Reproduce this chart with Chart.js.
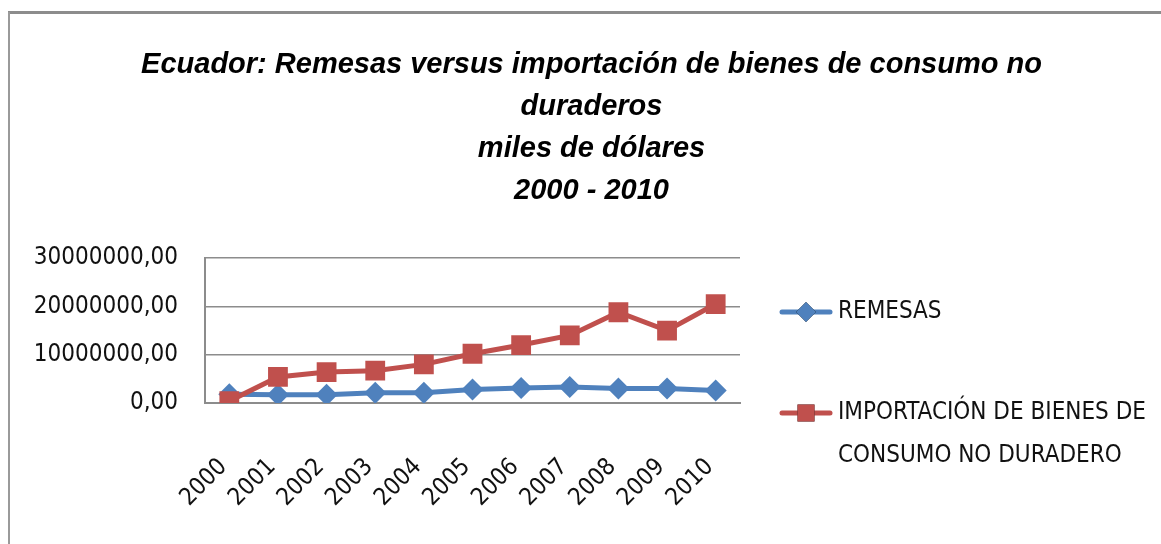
<!DOCTYPE html>
<html>
<head>
<meta charset="utf-8">
<style>
  html, body { margin: 0; padding: 0; background: #fff; }
  #wrap { width: 1161px; height: 544px; }
</style>
<script src="https://cdn.jsdelivr.net/npm/chart.js@4.4.1/dist/chart.umd.min.js"></script>
</head>
<body>
<div id="wrap"><canvas id="my-chart" width="1161" height="544"></canvas></div>
<script>
const years = ['2000', '2001', '2002', '2003', '2004', '2005', '2006', '2007', '2008', '2009', '2010'];
const remesas = [1800000, 1700000, 1700000, 2100000, 2100000, 2800000, 3100000, 3300000, 3000000, 3000000, 2600000];
const importacion = [400000, 5400000, 6400000, 6700000, 8000000, 10200000, 12000000, 14000000, 18800000, 15000000, 20500000];
const titleLines = [
  'Ecuador: Remesas versus importación de bienes de consumo no',
  'duraderos',
  'miles de dólares',
  '2000 - 2010',
];

const labelFont = "'Liberation Sans Narrow', 'DejaVu Sans Condensed', sans-serif";

// white background + the grey frame around the chart
const framePlugin = {
  id: 'frame',
  beforeDraw: (chart) => {
    const { ctx, width, height } = chart;
    ctx.save();
    ctx.fillStyle = '#fff';
    ctx.fillRect(0, 0, width, height);
    ctx.strokeStyle = '#8c8c8c';
    ctx.lineWidth = 3;
    ctx.beginPath();
    ctx.moveTo(8, 12.5);
    ctx.lineTo(width, 12.5);
    ctx.stroke();
    ctx.strokeStyle = '#9a9a9a';
    ctx.lineWidth = 2;
    ctx.beginPath();
    ctx.moveTo(9, 12);
    ctx.lineTo(9, height);
    ctx.stroke();
    ctx.restore();
  },
};

// legend drawn at the right, labels wrapped like the original
const sideLegend = {
  id: 'sideLegend',
  afterDraw: (chart) => {
    const { ctx } = chart;
    const x0 = chart.chartArea.right + 40;
    const rows = [312, 413];
    ctx.save();
    ctx.font = `24px ${labelFont}`;
    ctx.textBaseline = 'middle';
    chart.data.datasets.forEach((ds, i) => {
      const y = rows[i];
      ctx.strokeStyle = ds.borderColor;
      ctx.lineWidth = 5;
      ctx.lineCap = 'round';
      ctx.beginPath();
      ctx.moveTo(x0 + 2, y);
      ctx.lineTo(x0 + 50, y);
      ctx.stroke();
      Chart.helpers.drawPoint(ctx, {
        pointStyle: ds.pointStyle,
        radius: ds.pointStyle === 'rect' ? 12 : 10,
        borderWidth: 0,
        rotation: 0,
      }, x0 + 26, y);
      ctx.fillStyle = ds.backgroundColor;
      ctx.fill();
      ctx.fillStyle = '#111';
      // wrap words into lines no wider than 320px
      const words = ds.label.split(' ');
      const lines = [];
      let cur = '';
      words.forEach((w) => {
        const test = cur ? `${cur} ${w}` : w;
        if (ctx.measureText(test).width > 320 && cur) {
          lines.push(cur);
          cur = w;
        } else {
          cur = test;
        }
      });
      lines.push(cur);
      lines.forEach((line, j) => {
        ctx.fillText(line, x0 + 58, y + j * 43);
      });
    });
    ctx.restore();
  },
};

const chart1 = document.getElementById('my-chart').getContext('2d');
const myChart = new Chart(chart1, {
  type: 'line',
  data: {
    labels: years,
    datasets: [
      {
        label: 'REMESAS',
        data: remesas,
        borderColor: '#4f81bd',
        backgroundColor: '#4f81bd',
        pointStyle: 'rectRot',
        pointRadius: 11,
        pointBorderWidth: 0,
        borderWidth: 5,
        order: 2,
      },
      {
        label: 'IMPORTACIÓN DE BIENES DE CONSUMO NO DURADERO',
        data: importacion,
        borderColor: '#c0504d',
        backgroundColor: '#c0504d',
        pointStyle: 'rect',
        pointRadius: 14,
        pointBorderWidth: 0,
        borderWidth: 5,
        order: 1,
      },
    ],
  },
  options: {
    responsive: false,
    animation: false,
    events: [],
    layout: {
      padding: { top: 40, left: 30, right: 8, bottom: 10 },
    },
    scales: {
      x: {
        offset: true,
        grid: { display: false, drawTicks: false },
        border: { color: '#8c8c8c', width: 2 },
        ticks: {
          color: '#111',
          font: { family: labelFont, size: 24 },
          minRotation: 45,
          maxRotation: 45,
          padding: 50,
          labelOffset: -6,
        },
        afterFit: (scale) => {
          scale.height = 131;
        },
      },
      y: {
        min: 0,
        max: 30000000,
        grid: { color: '#8c8c8c', lineWidth: 1.5, drawTicks: false },
        border: { color: '#8c8c8c', width: 2 },
        ticks: {
          stepSize: 10000000,
          color: '#111',
          font: { family: labelFont, size: 24 },
          padding: 27,
          callback: (v) => `${v},00`,
        },
        afterFit: (scale) => {
          scale.width = 175;
        },
      },
      yRight: {
        position: 'right',
        display: true,
        grid: { display: false, drawTicks: false },
        border: { display: false },
        ticks: { display: false },
        afterFit: (scale) => {
          scale.width = 413;
        },
      },
    },
    plugins: {
      legend: { display: false },
      tooltip: { enabled: false },
      title: {
        display: true,
        text: titleLines,
        color: '#000',
        font: { family: "'Liberation Sans', Arial, sans-serif", size: 29, weight: 'bold', style: 'italic', lineHeight: 1.45 },
        padding: { top: 4, bottom: 46 },
      },
    },
  },
  plugins: [framePlugin, sideLegend],
});
</script>
</body>
</html>
